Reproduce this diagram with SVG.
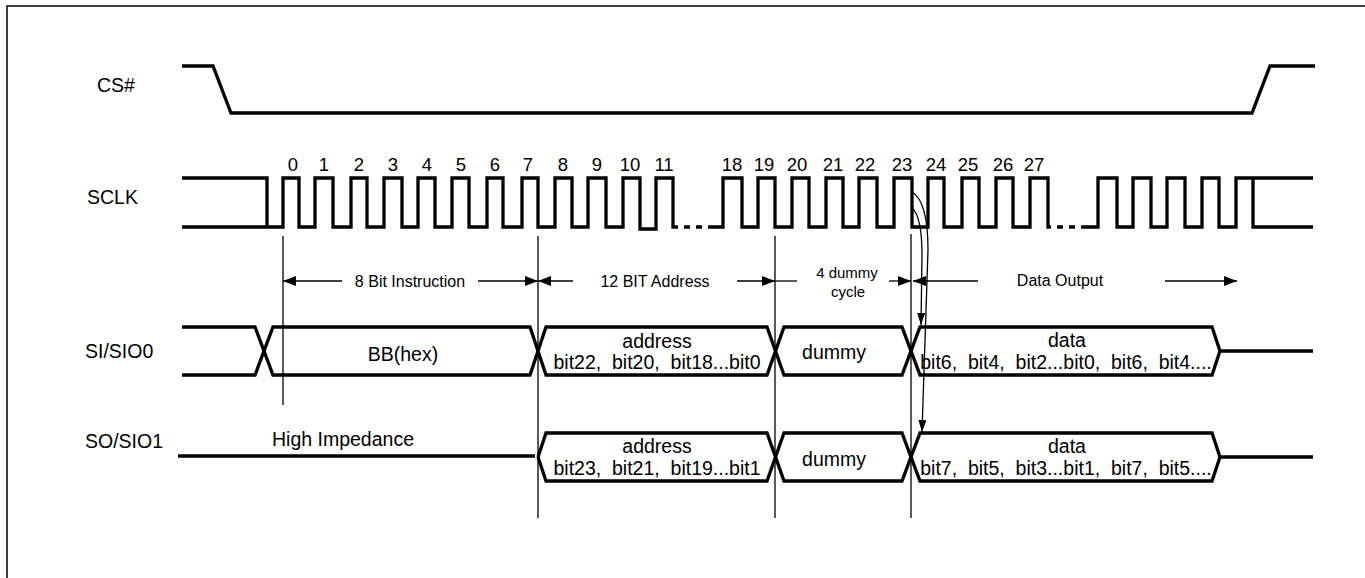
<svg xmlns="http://www.w3.org/2000/svg" width="1365" height="578" viewBox="0 0 1365 578">
<style>
text{font-family:"Liberation Sans",Arial,sans-serif;fill:#000}
.sig{fill:none;stroke:#000;stroke-width:3.3;stroke-linejoin:miter;stroke-linecap:butt}
.thin{fill:none;stroke:#000;stroke-width:1.3}
.lbl{font-size:19.5px}
.num{font-size:18.5px;text-anchor:middle}
.dim{font-size:16px;text-anchor:middle}
.bus{font-size:19.5px;text-anchor:middle}
.dots{fill:none;stroke:#000;stroke-width:3.3;stroke-dasharray:6 6}
</style>
<defs>
<marker id="ah" viewBox="0 0 13 10" refX="13" refY="5" markerWidth="13" markerHeight="10" markerUnits="userSpaceOnUse" orient="auto">
<path d="M0,0 L13,5 L0,10 Z" fill="#000"/>
</marker>
<marker id="ahs" viewBox="0 0 12 8" refX="12" refY="4" markerWidth="12" markerHeight="8" markerUnits="userSpaceOnUse" orient="auto">
<path d="M0,0 L12,4 L0,8 Z" fill="#000"/>
</marker>
</defs>
<rect x="7" y="6" width="1400" height="620" fill="none" stroke="#000" stroke-width="1.5"/>

<g id="cs">
<text class="lbl" x="97" y="92">CS#</text>
<path class="sig" d="M182,66 H213 L231,113 H1252 L1270,66 H1315"/>
</g>

<g id="sclk">
<text class="lbl" x="87" y="204">SCLK</text>
<path class="sig" d="M182,178 H267 V227"/>
<path class="sig" d="M182,227 H283 V178 H299 V227 H315 V178 H333 V227 H351 V178 H367 V227 H384 V178 H402 V227 H418 V178 H435 V227 H452 V178 H469 V227 H487 V178 H503 V227 H522 V178 H538 V227 H555 V178 H572 V227 H588 V178 H606 V227 H623 V178 H640 V229 H656 V178 H673 V227 H678"/>
<path class="dots" d="M684,227 H708"/>
<path class="sig" d="M708,227 H723 V178 H742 V227 H758 V178 H775 V227 H792 V178 H809 V227 H826 V178 H843 V227 H859 V178 H877 V227 H894 V178 H912 V227 H928 V178 H944 V227 H962 V178 H979 V227 H996 V178 H1013 V227 H1030 V178 H1048 V227 H1051"/>
<path class="dots" d="M1057,227 H1083"/>
<path class="sig" d="M1083,227 H1098 V178 H1117 V227 H1133 V178 H1151 V227 H1167 V178 H1185 V227 H1202 V178 H1219 V227 H1236 V178 H1313"/>
<path class="sig" d="M1253,178 V227 H1313"/>
<text class="num" x="293" y="171">0</text>
<text class="num" x="324" y="171">1</text>
<text class="num" x="359" y="171">2</text>
<text class="num" x="393" y="171">3</text>
<text class="num" x="427" y="171">4</text>
<text class="num" x="461" y="171">5</text>
<text class="num" x="495" y="171">6</text>
<text class="num" x="528" y="171">7</text>
<text class="num" x="563" y="171">8</text>
<text class="num" x="597" y="171">9</text>
<text class="num" x="630" y="171">10</text>
<text class="num" x="664" y="171">11</text>
<text class="num" x="732" y="171">18</text>
<text class="num" x="764" y="171">19</text>
<text class="num" x="797" y="171">20</text>
<text class="num" x="833" y="171">21</text>
<text class="num" x="865" y="171">22</text>
<text class="num" x="902" y="171">23</text>
<text class="num" x="936" y="171">24</text>
<text class="num" x="968" y="171">25</text>
<text class="num" x="1003" y="171">26</text>
<text class="num" x="1034" y="171">27</text>
</g>

<g id="si">
<text class="lbl" x="85" y="358">SI/SIO0</text>
<path class="sig" d="M182,327 H255 L273,375 H530 L546,327 H767 L784,375 H902 L920,327 H1212 L1220,351 H1313"/>
<path class="sig" d="M182,375 H255 L273,327 H530 L546,375 H767 L784,327 H902 L920,375 H1212 L1220,351"/>
<text class="bus" x="403" y="361">BB(hex)</text>
<text class="bus" x="657" y="348">address</text>
<text class="bus" x="657" y="369" xml:space="preserve">bit22,  bit20,  bit18...bit0</text>
<text class="bus" x="834" y="359">dummy</text>
<text class="bus" x="1067" y="347">data</text>
<text class="bus" x="1066" y="369" xml:space="preserve">bit6,  bit4,  bit2...bit0,  bit6,  bit4....</text>
</g>

<g id="so">
<text class="lbl" x="85" y="448">SO/SIO1</text>
<text class="bus" x="343" y="446">High Impedance</text>
<path class="sig" d="M178,456 H535"/>
<path class="sig" d="M538,457 L546,433 H767 L784,481 H902 L920,433 H1212 L1220,457 H1313"/>
<path class="sig" d="M538,457 L546,481 H767 L784,433 H902 L920,481 H1212 L1220,457"/>
<text class="bus" x="657" y="453">address</text>
<text class="bus" x="657" y="475" xml:space="preserve">bit23,  bit21,  bit19...bit1</text>
<text class="bus" x="834" y="466">dummy</text>
<text class="bus" x="1067" y="453">data</text>
<text class="bus" x="1066" y="475" xml:space="preserve">bit7,  bit5,  bit3...bit1,  bit7,  bit5....</text>
</g>

<g id="connectors">
<path class="thin" d="M283,236 V405"/>
<path class="thin" d="M538,236 V518"/>
<path class="thin" d="M775,236 V518"/>
<path class="thin" d="M911,234 V518"/>
<path class="thin" d="M342,281 H283" marker-end="url(#ah)"/>
<path class="thin" d="M478,281 H538" marker-end="url(#ah)"/>
<path class="thin" d="M573,281 H538" marker-end="url(#ah)"/>
<path class="thin" d="M737,281 H775" marker-end="url(#ah)"/>
<path class="thin" d="M775,281 H797"/>
<path class="thin" d="M889,281 H911" marker-end="url(#ah)"/>
<path class="thin" d="M978,281 H913" marker-end="url(#ah)"/>
<path class="thin" d="M1165,281 H1237" marker-end="url(#ah)"/>
<path class="thin" d="M912,208 C919,214 922,232 922,255 L921,325" marker-end="url(#ahs)"/>
<path class="thin" d="M912,192 C924,199 928,222 928,250 L922,432" marker-end="url(#ahs)"/>
<text class="dim" x="410" y="287">8 Bit Instruction</text>
<text class="dim" x="655" y="287">12 BIT Address</text>
<text class="dim" x="847" y="278" style="font-size:15px">4 dummy</text>
<text class="dim" x="848" y="297" style="font-size:15px">cycle</text>
<text class="dim" x="1060" y="286">Data Output</text>
</g>
</svg>
